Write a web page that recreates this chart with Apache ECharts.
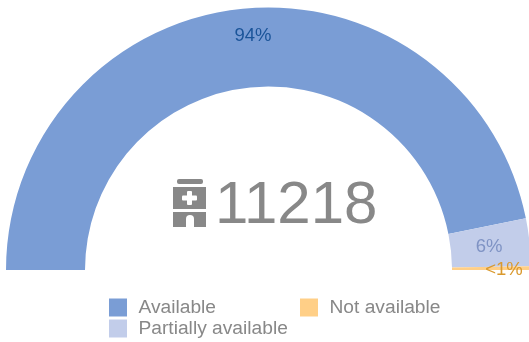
<!DOCTYPE html>
<html><head><meta charset="utf-8">
<style>html,body{margin:0;padding:0;background:#fff}#c{width:529px;height:342px}</style>
<script src="https://cdn.jsdelivr.net/npm/echarts@6/dist/echarts.min.js"></script>
</head><body><div id="c"></div>
<script>
const categories = ['Available', 'Partially available', 'Not available'];
const values = [10511, 657, 50];
const labels = ['94%', '6%', '<1%'];
const colors = ['#7a9dd5', '#c2cdea', '#ffcf87'];
const labelColors = ['#1a5499', '#7f93c4', '#d9992e'];
const totalLabel = '11218';
const chart = echarts.init(document.getElementById('c'), null, {renderer: 'canvas'});
const font = '"Liberation Sans", Arial, sans-serif';
const legendBase = {
  orient: 'vertical', itemWidth: 18, itemHeight: 18, itemGap: 2, icon: 'rect',
  textStyle: {fontFamily: font, fontSize: 19.2, color: '#888', padding: [0, 0, 0, 6.5]},
  selectedMode: false
};
const grey = {fill: '#888'};
chart.setOption({
  animation: false,
  legend: [
    Object.assign({}, legendBase, {left: 109, top: 298, padding: 0, data: categories.slice(0, 2)}),
    Object.assign({}, legendBase, {left: 300, top: 298, padding: 0, data: categories.slice(2)})
  ],
  title: {
    text: totalLabel, left: 215, top: 172, padding: 0,
    textStyle: {fontFamily: font, fontSize: 60, fontWeight: 'normal', color: '#888', lineHeight: 68}
  },
  graphic: [
    {type: 'rect', silent: true, shape: {x: 177, y: 179, width: 26, height: 5, r: 2}, style: grey},
    {type: 'rect', silent: true, shape: {x: 173, y: 187, width: 33, height: 22}, style: grey},
    {type: 'rect', silent: true, shape: {x: 173, y: 212, width: 33, height: 15}, style: grey},
    {type: 'rect', silent: true, shape: {x: 186, y: 215, width: 8, height: 12, r: [4, 4, 0, 0]}, style: {fill: '#fff'}},
    {type: 'rect', silent: true, shape: {x: 187, y: 191, width: 5, height: 14, r: 1}, style: {fill: '#fff'}},
    {type: 'rect', silent: true, shape: {x: 182, y: 195.5, width: 15, height: 5, r: 1}, style: {fill: '#fff'}}
  ],
  series: [{
    type: 'pie', center: [268.5, 270], radius: [183.5, 262.5],
    startAngle: 180, endAngle: 0, clockwise: true, silent: true,
    avoidLabelOverlap: false,
    itemStyle: {borderWidth: 0},
    labelLine: {show: false},
    data: categories.map((name, i) => ({
      name, value: values[i],
      itemStyle: {color: colors[i]},
      label: {
        show: true, position: 'inside', formatter: labels[i], fontFamily: font, fontSize: 18.5,
        color: labelColors[i]
      }
    })),
    labelLayout: function (p) {
      const t = [[253, 36], [489, 247], [504, 269.5]][p.dataIndex];
      return {x: t[0], y: t[1], align: 'center', verticalAlign: 'middle'};
    }
  }]
});
</script></body></html>
